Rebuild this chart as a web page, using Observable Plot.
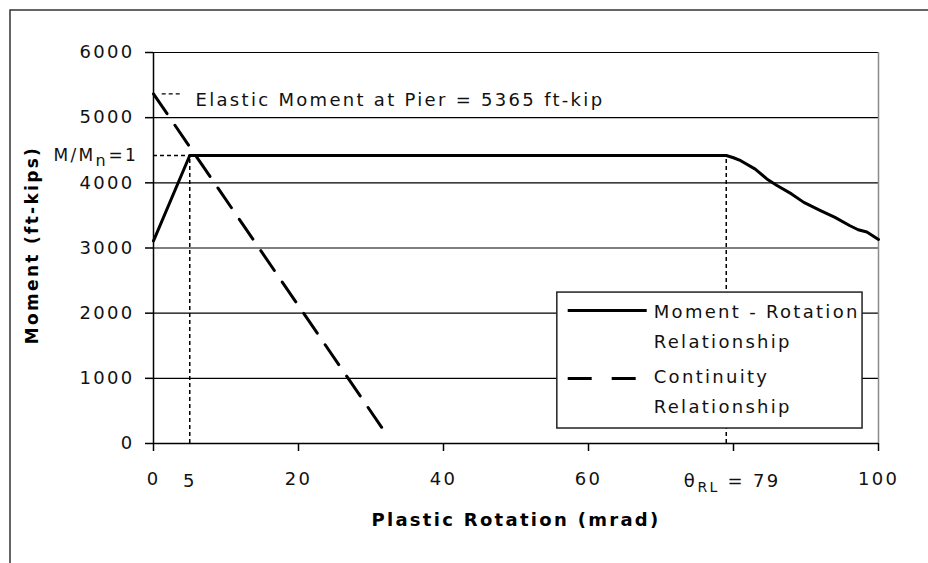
<!DOCTYPE html>
<html>
<head>
<meta charset="utf-8">
<script src="https://cdn.jsdelivr.net/npm/d3@7"></script>
<script src="https://cdn.jsdelivr.net/npm/@observablehq/plot@0.6"></script>
<style>
  html, body { margin: 0; padding: 0; background: #fff; }
  #chart { position: relative; width: 928px; height: 563px; }
</style>
</head>
<body>
<div id="chart"></div>
<script>
// ---- data ----
const xTicks = [0, 20, 40, 60, 80, 100];
const yTicks = [0, 1000, 2000, 3000, 4000, 5000, 6000];

// Moment - Rotation relationship (mrad, ft-kips)
const momentX = [0, 5, 79, 80, 81, 83, 84.6, 86, 88, 89.7, 92, 94, 96, 97.2, 98.4, 100];
const momentY = [3110, 4420, 4420, 4385, 4340, 4210, 4060, 3960, 3830, 3700, 3575, 3470, 3345, 3280, 3245, 3130];

// Continuity relationship
const contX = [0, 32.2];
const contY = [5365, 130];

const nominalMoment = 4420;    // M/Mn = 1
const elasticMoment = 5365;    // Elastic moment at pier
const guideX = [5, 79];        // theta at Mn, theta_RL
const thetaRL = 79;
const thetaRLTick = 80;

const legendItems = ["Moment - Rotation", "Relationship", "Continuity", "Relationship"];
const legendTextY = [2010, 1550, 1013, 552];
const legendBox = {x1: 55.7, x2: 97.8, y1: 230, y2: 2316};
const legendSolid = {x1: 57.2, x2: 68.1, y: 2041};
const legendDashed = {x1: 57.2, x2: 66.8, y: 997};
const legendTextX = 69;

const moment = momentX.map((x, i) => ({x, y: momentY[i]}));
const continuity = contX.map((x, i) => ({x, y: contY[i]}));

const font = "DejaVu Sans";

const plot = Plot.plot({
  width: 928,
  height: 563,
  marginLeft: 153,
  marginRight: 50,
  marginTop: 52,
  marginBottom: 120,
  style: {fontFamily: font, fontSize: "18px", letterSpacing: "2.3px", color: "#000", background: "#fff"},
  x: {domain: [0, 100]},
  y: {domain: [0, 6000]},
  marks: [
    // gridlines
    Plot.ruleY(yTicks.filter(v => v > 0), {stroke: "#000", strokeWidth: 1.2}),
    // right edge of plot area
    Plot.ruleX([100], {stroke: "#8a8a8a", strokeWidth: 1.5}),
    // guides
    Plot.ruleX(guideX, {y1: 0, y2: nominalMoment, stroke: "#000", strokeWidth: 1.5, strokeDasharray: "4,3"}),
    Plot.ruleY([nominalMoment], {x1: 0, x2: guideX[0], stroke: "#000", strokeWidth: 1.5, strokeDasharray: "4,3"}),
    Plot.ruleY([elasticMoment], {x1: 1.2, x2: 4, stroke: "#000", strokeWidth: 1.3, strokeDasharray: "4,3"}),
    // series
    Plot.line(continuity, {x: "x", y: "y", stroke: "#000", strokeWidth: 3, strokeDasharray: "24,14"}),
    Plot.line(moment, {x: "x", y: "y", stroke: "#000", strokeWidth: 3}),
    // legend
    Plot.rect([legendBox], {x1: "x1", x2: "x2", y1: "y1", y2: "y2", fill: "#fff", stroke: "#222", strokeWidth: 1.5}),
    Plot.ruleY([legendSolid], {x1: "x1", x2: "x2", y: "y", stroke: "#000", strokeWidth: 3}),
    Plot.ruleY([legendDashed], {x1: "x1", x2: "x2", y: "y", stroke: "#000", strokeWidth: 3, strokeDasharray: "24,20"}),
    Plot.text(legendItems, {x: () => legendTextX, y: (d, i) => legendTextY[i], text: d => d, textAnchor: "start", fontSize: 18, fill: "#111"}),
    // annotations
    Plot.text(["Elastic Moment at Pier = 5365 ft-kip"], {x: () => 5.8, y: () => elasticMoment, text: d => d, textAnchor: "start", dy: 6, fontSize: 18, fill: "#111"}),
    Plot.text(["M/M"], {x: () => 0, y: () => nominalMoment, text: d => d, textAnchor: "end", dx: -58, fontSize: 17, fill: "#111"}),
    Plot.text(["n"], {x: () => 0, y: () => nominalMoment, text: d => d, textAnchor: "start", dx: -58, dy: 5, fontSize: 16, fill: "#111"}),
    Plot.text(["=1"], {x: () => 0, y: () => nominalMoment, text: d => d, textAnchor: "start", dx: -45, fontSize: 17, fill: "#111"}),
    Plot.text([guideX[0]], {x: d => d, y: () => 0, text: d => String(d), dy: 38, fontSize: 18, fill: "#111"}),
    Plot.text(["\u03b8"], {x: () => thetaRLTick, y: () => 0, text: d => d, dx: -43, dy: 38, fontSize: 18, fill: "#111"}),
    Plot.text(["RL"], {x: () => thetaRLTick, y: () => 0, text: d => d, textAnchor: "start", dx: -36, dy: 44, fontSize: 14, fill: "#111"}),
    Plot.text([`= ${thetaRL}`], {x: () => thetaRLTick, y: () => 0, text: d => d, textAnchor: "start", dx: -6, dy: 38, fontSize: 18, fill: "#111"}),
    // axis titles
    Plot.text(["Moment (ft-kips)"], {frameAnchor: "left", rotate: -90, textAnchor: "middle", dx: -121, dy: -3, text: d => d, fontWeight: "bold", fontSize: 17, fill: "#000"}),
    Plot.text(["Plastic Rotation (mrad)"], {frameAnchor: "bottom", textAnchor: "middle", dy: 82, text: d => d, fontWeight: "bold", fontSize: 18, fill: "#000"}),
    // axes
    Plot.axisY(yTicks, {tickSize: 8, tickPadding: 11, label: null, strokeWidth: 1.5, fill: "#111", tickFormat: d => String(d)}),
    Plot.axisX(xTicks, {tickSize: 8, tickPadding: 21, label: null, strokeWidth: 1.5, fill: "#111",
      tickFormat: d => (d === thetaRLTick ? "" : String(d))}),
    Plot.ruleX([0], {stroke: "#000", strokeWidth: 1.5}),
    Plot.ruleY([0], {stroke: "#000", strokeWidth: 1.5})
  ]
});

document.getElementById("chart").appendChild(plot);

// outer chart-area border (top and left edges visible in the reference)
d3.select(plot).append("path")
  .attr("d", "M10,563V10H928")
  .attr("fill", "none")
  .attr("stroke", "#333")
  .attr("stroke-width", 1.5);
</script>
</body>
</html>
